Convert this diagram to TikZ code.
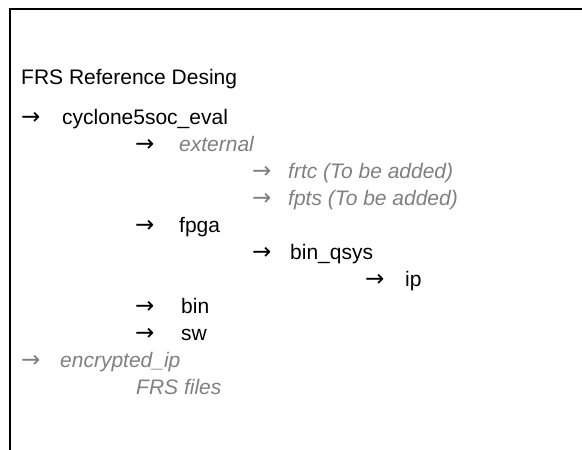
\documentclass[tikz,border=0pt]{standalone}
\usepackage{fontspec}
\setmainfont{Liberation Sans}
\newfontfamily\arrowfont{DejaVu Sans}
\definecolor{ltgray}{HTML}{808080}
\begin{document}
\begin{tikzpicture}[x=1pt,y=-1pt,
  txt/.style={anchor=base west,inner sep=0pt,font=\fontsize{21}{25}\selectfont,text=black},
  gtxt/.style={txt,text=ltgray,font=\fontsize{21}{25}\selectfont\itshape},
  arr/.style={txt,font=\arrowfont\fontsize{23}{26}\selectfont},
  garr/.style={arr,text=ltgray}]
\useasboundingbox (0,0) rectangle (582,450);
\draw[line width=2pt] (582,9) -- (9.5,9) -- (9.5,450);
\node[txt] (title) at (21,84) {FRS Reference Desing};
\node[arr] (a0) at (21,124) {→};
\node[txt] (cyc) at (62,124) {cyclone5soc\_eval};
\node[arr] (a1) at (135,151) {→};
\node[gtxt] (ext) at (179,151) {external};
\node[garr] (a2) at (252,178) {→};
\node[gtxt] (frtc) at (288,178) {frtc (To be added)};
\node[garr] (a3) at (252,205) {→};
\node[gtxt] (fpts) at (288,205) {fpts (To be added)};
\node[arr] (a4) at (135,232) {→};
\node[txt] (fpga) at (179,232) {fpga};
\node[arr] (a5) at (252,259) {→};
\node[txt] (bq) at (290,259) {bin\_qsys};
\node[arr] (a6) at (365,286) {→};
\node[txt] (ip) at (405,286) {ip};
\node[arr] (a7) at (135,313) {→};
\node[txt] (bin) at (181,313) {bin};
\node[arr] (a8) at (135,340) {→};
\node[txt] (sw) at (181,340) {sw};
\node[garr] (a9) at (21,367) {→};
\node[gtxt] (enc) at (60,367) {encrypted\_ip};
\node[gtxt] (frs) at (136,394) {FRS files};
\end{tikzpicture}
\end{document}
